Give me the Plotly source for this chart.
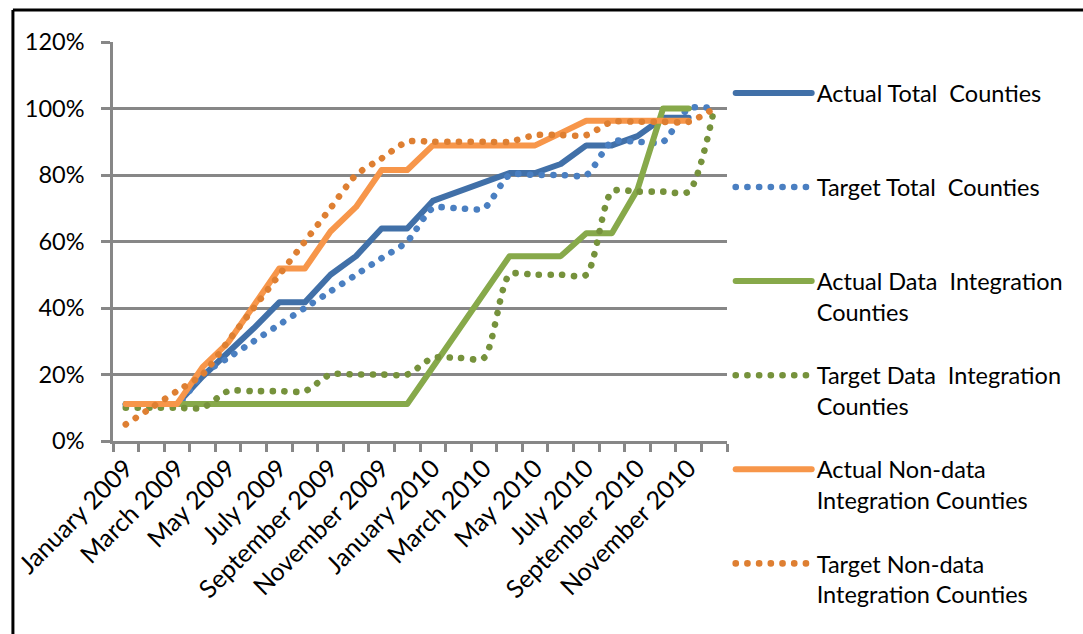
import plotly.graph_objects as go

# Monthly rollout, January 2009 - December 2010
months = [
    "January 2009", "February 2009", "March 2009", "April 2009", "May 2009", "June 2009",
    "July 2009", "August 2009", "September 2009", "October 2009", "November 2009", "December 2009",
    "January 2010", "February 2010", "March 2010", "April 2010", "May 2010", "June 2010",
    "July 2010", "August 2010", "September 2010", "October 2010", "November 2010", "December 2010",
]

# Percent of counties (actuals reported through November 2010)
actual_total = [11.1, 11.1, 11.1, 19.4, 26.4, 33.9, 41.7, 41.7, 50.0, 55.6, 63.9, 63.9,
                72.2, 75.0, 77.8, 80.6, 80.6, 83.3, 88.9, 88.9, 91.7, 97.2, 97.2, None]
target_total = [11, 11, 11, 20, 25, 30, 35, 40, 45, 50, 55, 60,
                70, 70, 70, 80, 80, 80, 80, 90, 90, 90, 100, 100]
actual_data = [11.1, 11.1, 11.1, 11.1, 11.1, 11.1, 11.1, 11.1, 11.1, 11.1, 11.1, 11.1,
               22.2, 33.3, 44.4, 55.6, 55.6, 55.6, 62.5, 62.5, 75.6, 100, 100, None]
target_data = [10, 10, 10, 10, 15, 15, 15, 15, 20, 20, 20, 20,
               25, 25, 25, 50, 50, 50, 50, 75, 75, 75, 75, 100]
actual_nondata = [11.1, 11.1, 11.1, 22.2, 29.6, 40.7, 51.9, 51.9, 63.0, 70.4, 81.5, 81.5,
                  88.9, 88.9, 88.9, 88.9, 88.9, 92.6, 96.3, 96.3, 96.3, 96.3, 96.3, None]
target_nondata = [5, 10, 15, 20, 30, 40, 50, 60, 70, 80, 85, 90,
                  90, 90, 90, 90, 92, 92, 92, 96, 96, 96, 96, 100]

series_names = [
    "Actual Total\u00a0 Counties<br>\u00a0",
    "Target Total\u00a0 Counties<br>\u00a0",
    "Actual Data\u00a0 Integration<br>Counties",
    "Target Data\u00a0 Integration<br>Counties",
    "Actual Non-data<br>Integration Counties",
    "Target Non-data<br>Integration Counties",
]
y_ticks = [0, 20, 40, 60, 80, 100, 120]

FONT = "Lato, 'Open Sans', sans-serif"
GRID = "#878787"
DOT = "0.1px,11.6px"

x = list(range(len(months)))

series = [
    (actual_total, "#4170A8", "solid", "linear"),
    (target_total, "#4A7FC1", DOT, "spline"),
    (actual_data, "#87A94A", "solid", "linear"),
    (target_data, "#76923C", DOT, "spline"),
    (actual_nondata, "#F7964A", "solid", "linear"),
    (target_nondata, "#DE7F32", DOT, "spline"),
]

fig = go.Figure()
for i, ((vals, color, dash, shape), name) in enumerate(zip(series, series_names)):
    line = dict(color=color, width=6 if dash == "solid" else 6.6, dash=dash, shape=shape)
    if shape == "spline":
        line["smoothing"] = 0.7
    fig.add_trace(go.Scatter(
        x=x, y=vals, name=name, mode="lines", legendgroup=f"g{i}",
        line=line, connectgaps=False, hoverinfo="skip",
    ))

fig.update_layout(
    width=1083, height=634,
    margin=dict(l=107, r=356, t=42, b=193),
    paper_bgcolor="white", plot_bgcolor="white",
    font=dict(family=FONT, size=23.5, color="black"),
    showlegend=True,
    legend=dict(
        x=1.006, xanchor="left", y=0.927, yanchor="top",
        itemwidth=76, tracegroupgap=30, valign="top", maxheight=620,
        font=dict(family=FONT, size=23.5, color="black"),
        bgcolor="rgba(0,0,0,0)",
    ),
    xaxis=dict(
        range=[-0.5, len(months) - 0.5],
        tickmode="array", tickvals=x[::2], ticktext=months[::2],
        tickangle=-45, ticks="", showgrid=False, zeroline=False,
        showline=True, linecolor=GRID, linewidth=2.5,
        minor=dict(tickmode="array", tickvals=[v - 0.5 for v in range(len(months) + 1)],
                   ticks="outside", ticklen=8, tickwidth=2.5, tickcolor=GRID, showgrid=False),
        tickfont=dict(family=FONT, size=25, color="black"),
    ),
    yaxis=dict(
        range=[0, 120], tickmode="array", tickvals=y_ticks,
        ticktext=[f"{v}%" for v in y_ticks],
        showgrid=True, gridcolor=GRID, gridwidth=2.5, zeroline=False,
        showline=True, linecolor=GRID, linewidth=2.5,
        ticks="outside", ticklen=9, tickwidth=2.5, tickcolor=GRID,
        ticklabelstandoff=12,
        tickfont=dict(family=FONT, size=23.5, color="black"),
    ),
    shapes=[
        # outer frame (top and left edges)
        dict(type="line", xref="paper", yref="paper", x0=-0.163, x1=1.6, y0=1.080, y1=1.080,
             line=dict(color="black", width=3)),
        dict(type="line", xref="paper", yref="paper", x0=-0.163, x1=-0.163, y0=1.080, y1=-0.6,
             line=dict(color="black", width=3)),
    ],
)

round_caps = (
    "var s=document.createElement('style');"
    "s.textContent='.js-line{stroke-linecap:round !important;stroke-linejoin:round !important}';"
    "document.head.appendChild(s);"
)
fig.write_html("out.html", post_script=round_caps)
